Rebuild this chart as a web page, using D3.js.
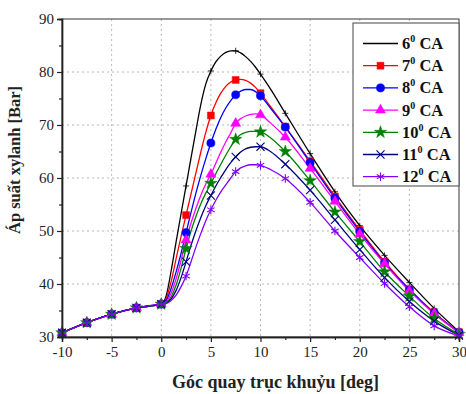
<!DOCTYPE html>
<html>
<head>
<meta charset="utf-8">
<script src="https://cdn.jsdelivr.net/npm/d3@7"></script>
<style>
  html, body { margin: 0; padding: 0; background: #fff; }
  svg { display: block; }
  text { font-family: "Liberation Serif", "Times New Roman", serif; }
</style>
</head>
<body>
<svg id="chart" width="466" height="394"></svg>
<script>
// Crank angle samples [deg]
const angles = [-10, -7.5, -5, -2.5, 0, 0.5, 1, 1.5, 2, 2.5, 3, 3.5, 4, 4.5, 5, 5.5, 6, 6.5, 7, 7.5,
                8, 8.5, 9, 9.5, 10, 11, 12.5, 15, 17.5, 20, 22.5, 25, 27.5, 30];

// Cylinder pressure [Bar] for each injection timing
const p6  = [30.8, 32.7, 34.3, 35.5, 36.2, 37.8, 42.5, 48.0, 53.3, 58.5, 63.8, 69.0, 74.0, 77.8, 80.2, 81.9, 83.0, 83.7, 84.0, 84.0,
             83.6, 82.9, 82.0, 80.9, 79.6, 76.8, 72.2, 64.6, 57.4, 51.0, 45.4, 40.3, 35.4, 31.0];
const p7  = [30.8, 32.7, 34.3, 35.5, 36.2, 37.3, 40.5, 44.8, 49.0, 53.0, 57.0, 61.0, 65.0, 68.7, 71.8, 74.2, 76.0, 77.3, 78.1, 78.5,
             78.6, 78.4, 77.9, 77.1, 76.0, 73.5, 69.7, 63.2, 56.5, 50.2, 44.2, 39.0, 34.6, 30.9];
const p8  = [30.8, 32.7, 34.3, 35.5, 36.2, 36.9, 39.2, 42.3, 45.8, 49.7, 53.5, 57.2, 60.6, 63.7, 66.6, 69.2, 71.4, 73.2, 74.6, 75.7,
             76.4, 76.7, 76.7, 76.3, 75.5, 73.2, 69.6, 62.9, 56.2, 49.9, 44.0, 38.9, 34.5, 30.9];
const p9  = [30.8, 32.7, 34.3, 35.5, 36.2, 36.6, 38.3, 41.0, 44.5, 48.3, 51.5, 54.3, 56.8, 58.9, 60.7, 62.8, 64.9, 66.8, 68.5, 70.3,
             71.2, 71.7, 72.0, 72.1, 71.9, 70.4, 67.7, 61.8, 55.6, 49.4, 43.8, 38.7, 34.4, 30.8];
const p10 = [30.8, 32.7, 34.3, 35.5, 36.2, 36.5, 37.6, 39.8, 43.0, 46.7, 50.0, 52.8, 55.2, 57.2, 59.0, 60.8, 62.6, 64.3, 65.9, 67.3,
             68.2, 68.6, 68.8, 68.8, 68.7, 67.6, 65.0, 59.5, 53.6, 48.0, 42.3, 37.7, 33.5, 30.5];
const p11 = [30.8, 32.7, 34.3, 35.5, 36.2, 36.4, 37.2, 38.8, 41.2, 44.2, 47.3, 50.1, 52.6, 54.8, 56.7, 58.5, 60.1, 61.6, 62.9, 64.0,
             64.9, 65.5, 65.8, 65.9, 65.9, 65.0, 62.6, 57.7, 52.1, 46.5, 41.2, 36.7, 33.0, 30.3];
const p12 = [30.8, 32.7, 34.3, 35.5, 36.2, 36.3, 36.9, 37.9, 39.5, 41.5, 44.2, 47.0, 49.6, 52.0, 54.0, 55.8, 57.4, 58.7, 60.0, 61.2,
             61.9, 62.3, 62.5, 62.5, 62.4, 61.6, 59.9, 55.4, 50.0, 45.0, 40.1, 35.7, 32.1, 30.2];

const timings = ["6", "7", "8", "9", "10", "11", "12"];
const xTicks = [-10, -5, 0, 5, 10, 15, 20, 25, 30];
const yTicks = [30, 40, 50, 60, 70, 80, 90];

const seriesDefs = [
  { label: timings[0], values: p6,  color: "#000000", symbol: d3.symbolPlus,     size: 14, filled: false },
  { label: timings[1], values: p7,  color: "#ff0000", symbol: d3.symbolSquare,   size: 48, filled: true },
  { label: timings[2], values: p8,  color: "#0000ff", symbol: d3.symbolCircle,   size: 52, filled: true },
  { label: timings[3], values: p9,  color: "#ff00ff", symbol: d3.symbolTriangle, size: 44, filled: true },
  { label: timings[4], values: p10, color: "#008000", symbol: d3.symbolStar,     size: 48, filled: true },
  { label: timings[5], values: p11, color: "#000080", symbol: d3.symbolTimes,    size: 44, filled: false },
  { label: timings[6], values: p12, color: "#8000ff", symbol: d3.symbolAsterisk, size: 52, filled: false }
];

const svg = d3.select("#chart");
const plotL = 62, plotR = 459, plotT = 19, plotB = 337;

const x = d3.scaleLinear().domain([-10, 30]).range([plotL, plotR]);
const y = d3.scaleLinear().domain([30, 90]).range([plotB, plotT]);

// dotted grid at the major ticks
const grid = svg.append("g").attr("stroke", "#b8b8b8").attr("stroke-width", 1)
  .attr("stroke-dasharray", "2,3");
grid.selectAll("line.gx").data(xTicks.slice(1, -1)).join("line")
  .attr("x1", d => x(d)).attr("x2", d => x(d)).attr("y1", plotT).attr("y2", plotB);
grid.selectAll("line.gy").data(yTicks.slice(1, -1)).join("line")
  .attr("x1", plotL).attr("x2", plotR).attr("y1", d => y(d)).attr("y2", d => y(d));

// plot frame
svg.append("rect").attr("x", plotL).attr("y", plotT)
  .attr("width", plotR - plotL).attr("height", plotB - plotT)
  .attr("fill", "none").attr("stroke", "#555").attr("stroke-width", 1.2);

// curves
const line = d3.line()
  .x((d, i) => x(angles[i]))
  .y(d => y(d))
  .curve(d3.curveMonotoneX);

const plot = svg.append("g");
seriesDefs.forEach(s => {
  plot.append("path")
    .attr("d", line(s.values))
    .attr("fill", "none")
    .attr("stroke", s.color)
    .attr("stroke-width", 1.3);
});

// markers every 2.5 degrees
const sym = d3.symbol();
seriesDefs.forEach(s => {
  const pts = angles.map((a, i) => ({ a, v: s.values[i] }))
    .filter(p => Math.abs(p.a / 2.5 - Math.round(p.a / 2.5)) < 1e-9);
  plot.append("g").selectAll("path").data(pts).join("path")
    .attr("transform", p => `translate(${x(p.a)},${y(p.v)})`)
    .attr("d", sym.type(s.symbol).size(s.size)())
    .attr("fill", s.filled ? s.color : "none")
    .attr("stroke", s.color)
    .attr("stroke-width", s.filled ? 0.5 : (s.label === "6" ? 0.8 : 1.1));
});

// axes (plain hyphen for negative labels)
const fmt = d => String(d);
const xAxis = d3.axisBottom(x).tickValues(xTicks).tickSize(5).tickPadding(4).tickFormat(fmt);
svg.append("g").attr("transform", `translate(0,${plotB})`).call(xAxis);
const xMinor = d3.axisBottom(x).tickValues(d3.range(-7.5, 30, 5)).tickSize(3).tickFormat("");
svg.append("g").attr("transform", `translate(0,${plotB})`).call(xMinor);

const yAxis = d3.axisLeft(y).tickValues(yTicks).tickSize(5).tickPadding(3).tickFormat(fmt);
svg.append("g").attr("transform", `translate(${plotL},0)`).call(yAxis);
const yMinor = d3.axisLeft(y).tickValues(d3.range(35, 90, 10)).tickSize(3).tickFormat("");
svg.append("g").attr("transform", `translate(${plotL},0)`).call(yMinor);

svg.selectAll(".domain").attr("stroke", "#222").attr("stroke-width", 1.4);
svg.selectAll(".tick line").attr("stroke", "#222").attr("stroke-width", 1.2);
svg.selectAll(".tick text")
  .attr("font-family", "'Liberation Serif', 'Times New Roman', serif")
  .attr("font-size", 15).attr("fill", "#222");

// axis titles
svg.append("text")
  .attr("x", (plotL + plotR) / 2 + 15).attr("y", 388)
  .attr("text-anchor", "middle")
  .attr("font-size", 18).attr("font-weight", "bold").attr("fill", "#222")
  .text("Góc quay trục khuỷu [deg]");

svg.append("text")
  .attr("transform", "translate(20,160) rotate(-90)")
  .attr("text-anchor", "middle")
  .attr("font-size", 16.5).attr("font-weight", "bold").attr("fill", "#222")
  .text("Áp suất xylanh [Bar]");

// legend
const lg = svg.append("g");
lg.append("rect").attr("x", 353).attr("y", 23).attr("width", 106).attr("height", 163)
  .attr("fill", "#fff").attr("stroke", "#555").attr("stroke-width", 1.1);

const rowY = d => 43.5 + d * 22.2;
seriesDefs.forEach((s, i) => {
  const yy = rowY(i);
  lg.append("line").attr("x1", 363).attr("x2", 398).attr("y1", yy).attr("y2", yy)
    .attr("stroke", s.color).attr("stroke-width", 1.3);
  if (i > 0) {
    lg.append("path")
      .attr("transform", `translate(380.5,${yy})`)
      .attr("d", sym.type(s.symbol).size(s.size)())
      .attr("fill", s.filled ? s.color : "none")
      .attr("stroke", s.color)
      .attr("stroke-width", s.filled ? 0.5 : 1.1);
  }
  const t = lg.append("text").attr("x", 402).attr("y", yy + 5.5)
    .attr("font-size", 16.5).attr("font-weight", "bold").attr("fill", "#111");
  t.append("tspan").text(s.label);
  t.append("tspan").attr("font-size", 10).attr("dy", -7).text("0");
  t.append("tspan").attr("dy", 7).text(" CA");
});
</script>
</body>
</html>
